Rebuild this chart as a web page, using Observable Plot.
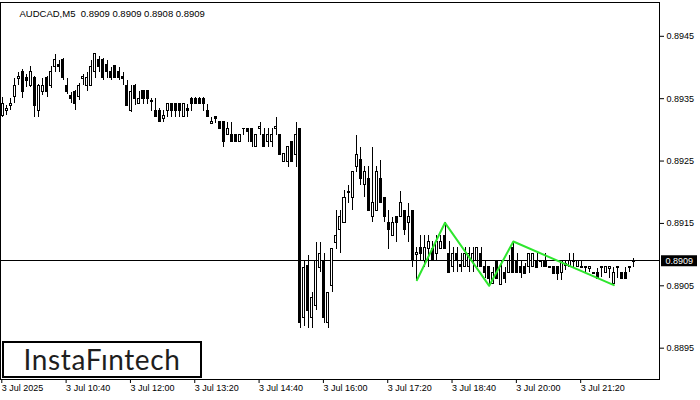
<!DOCTYPE html>
<html><head><meta charset="utf-8">
<script src="https://cdn.jsdelivr.net/npm/d3@7"></script>
<script src="https://cdn.jsdelivr.net/npm/@observablehq/plot@0.6"></script>
<style>
html,body{margin:0;padding:0;background:#fff;}
#wrap{position:relative;width:700px;height:400px;overflow:hidden;}
#logo{position:absolute;left:2px;top:341px;width:196px;height:33px;border:2px solid #000;background:#fff;font-family:Lato,"Open Sans",sans-serif;font-size:28px;font-weight:400;line-height:33px;text-align:center;color:#1e1e1e;letter-spacing:0.6px;}
</style></head><body><div id="wrap"><div id="chart"></div><div id="logo">InstaFıntech</div></div>
<script>
const titleText = "AUDCAD,M5\u00a0\u00a00.8909 0.8909 0.8908 0.8909";
const firstBar = -1;
const opens = [0.89323,0.89323,0.89330,0.89339,0.89352,0.89381,0.89392,0.89383,0.89371,0.89383,0.89331,0.89360,0.89383,0.89371,0.89400,0.89404,0.89412,0.89371,0.89354,0.89360,0.89352,0.89381,0.89371,0.89371,0.89392,0.89412,0.89412,0.89404,0.89392,0.89402,0.89392,0.89384,0.89371,0.89331,0.89371,0.89341,0.89362,0.89362,0.89344,0.89331,0.89331,0.89318,0.89331,0.89341,0.89341,0.89341,0.89320,0.89333,0.89350,0.89350,0.89350,0.89350,0.89331,0.89310,0.89320,0.89312,0.89312,0.89291,0.89291,0.89291,0.89280,0.89301,0.89301,0.89302,0.89272,0.89301,0.89291,0.89280,0.89280,0.89301,0.89291,0.89249,0.89249,0.89280,0.89260,0.89302,0.88998,0.89082,0.88998,0.89018,0.89079,0.89090,0.88990,0.89050,0.89119,0.89140,0.89151,0.89198,0.89191,0.89241,0.89251,0.89211,0.89222,0.89161,0.89170,0.89222,0.89191,0.89151,0.89130,0.89161,0.89161,0.89170,0.89151,0.89170,0.89100,0.89111,0.89090,0.89109,0.89109,0.89101,0.89109,0.89130,0.89101,0.89080,0.89101,0.89084,0.89080,0.89080,0.89090,0.89090,0.89101,0.89080,0.89080,0.89053,0.89090,0.89051,0.89071,0.89071,0.89111,0.89090,0.89080,0.89080,0.89080,0.89080,0.89090,0.89090,0.89090,0.89080,0.89080,0.89080,0.89071,0.89082,0.89080,0.89090,0.89080,0.89079,0.89080,0.89077,0.89071,0.89071,0.89080,0.89071,0.89077,0.89053,0.89080,0.89071,0.89071,0.89079,0.89088];
const highs = [0.89326,0.89352,0.89339,0.89350,0.89383,0.89392,0.89396,0.89388,0.89402,0.89386,0.89373,0.89383,0.89386,0.89402,0.89421,0.89412,0.89415,0.89383,0.89360,0.89363,0.89375,0.89389,0.89392,0.89412,0.89423,0.89418,0.89415,0.89412,0.89400,0.89402,0.89400,0.89392,0.89379,0.89371,0.89373,0.89362,0.89362,0.89363,0.89350,0.89350,0.89334,0.89331,0.89341,0.89341,0.89341,0.89341,0.89341,0.89341,0.89352,0.89352,0.89352,0.89352,0.89341,0.89320,0.89320,0.89312,0.89313,0.89312,0.89312,0.89291,0.89291,0.89302,0.89302,0.89302,0.89291,0.89312,0.89302,0.89302,0.89302,0.89320,0.89291,0.89262,0.89272,0.89280,0.89312,0.89302,0.89090,0.89098,0.89039,0.89119,0.89119,0.89101,0.89039,0.89109,0.89170,0.89170,0.89203,0.89211,0.89232,0.89291,0.89272,0.89241,0.89241,0.89272,0.89241,0.89251,0.89191,0.89170,0.89159,0.89161,0.89201,0.89170,0.89182,0.89170,0.89111,0.89130,0.89130,0.89130,0.89121,0.89130,0.89130,0.89151,0.89121,0.89111,0.89111,0.89101,0.89111,0.89111,0.89111,0.89111,0.89111,0.89090,0.89080,0.89080,0.89090,0.89090,0.89080,0.89098,0.89121,0.89101,0.89090,0.89085,0.89101,0.89101,0.89101,0.89090,0.89101,0.89080,0.89080,0.89080,0.89090,0.89090,0.89101,0.89101,0.89090,0.89090,0.89080,0.89080,0.89071,0.89077,0.89080,0.89080,0.89080,0.89080,0.89080,0.89071,0.89080,0.89080,0.89093];
const lows = [0.89307,0.89320,0.89323,0.89331,0.89342,0.89371,0.89350,0.89368,0.89368,0.89320,0.89320,0.89355,0.89352,0.89367,0.89392,0.89392,0.89379,0.89357,0.89342,0.89331,0.89347,0.89371,0.89362,0.89370,0.89383,0.89392,0.89379,0.89383,0.89379,0.89383,0.89379,0.89371,0.89339,0.89328,0.89339,0.89341,0.89341,0.89341,0.89330,0.89320,0.89312,0.89312,0.89320,0.89320,0.89320,0.89320,0.89320,0.89320,0.89330,0.89341,0.89341,0.89330,0.89320,0.89310,0.89310,0.89302,0.89272,0.89291,0.89280,0.89280,0.89280,0.89291,0.89280,0.89272,0.89272,0.89291,0.89272,0.89272,0.89272,0.89291,0.89260,0.89248,0.89240,0.89249,0.89240,0.88981,0.88985,0.88981,0.88981,0.89010,0.89071,0.88989,0.88981,0.89039,0.89109,0.89101,0.89151,0.89182,0.89170,0.89232,0.89211,0.89191,0.89170,0.89151,0.89170,0.89182,0.89151,0.89109,0.89130,0.89119,0.89161,0.89130,0.89119,0.89079,0.89059,0.89090,0.89079,0.89079,0.89090,0.89090,0.89109,0.89109,0.89071,0.89071,0.89071,0.89071,0.89080,0.89071,0.89071,0.89080,0.89080,0.89061,0.89050,0.89053,0.89061,0.89051,0.89053,0.89071,0.89071,0.89071,0.89061,0.89069,0.89069,0.89080,0.89079,0.89080,0.89080,0.89079,0.89069,0.89059,0.89059,0.89074,0.89080,0.89080,0.89080,0.89079,0.89071,0.89071,0.89069,0.89061,0.89064,0.89071,0.89061,0.89051,0.89061,0.89061,0.89061,0.89071,0.89080];
const closes = [0.89310,0.89341,0.89333,0.89342,0.89371,0.89384,0.89360,0.89379,0.89392,0.89339,0.89371,0.89371,0.89360,0.89392,0.89412,0.89400,0.89383,0.89360,0.89350,0.89341,0.89371,0.89384,0.89383,0.89400,0.89421,0.89400,0.89383,0.89392,0.89383,0.89383,0.89383,0.89381,0.89339,0.89360,0.89350,0.89350,0.89350,0.89350,0.89347,0.89320,0.89312,0.89322,0.89341,0.89331,0.89331,0.89331,0.89341,0.89330,0.89341,0.89341,0.89341,0.89341,0.89320,0.89313,0.89318,0.89302,0.89280,0.89302,0.89280,0.89280,0.89291,0.89302,0.89297,0.89280,0.89291,0.89304,0.89272,0.89291,0.89291,0.89304,0.89260,0.89262,0.89272,0.89249,0.89291,0.88990,0.89079,0.89010,0.89031,0.89090,0.89101,0.88998,0.89039,0.89109,0.89130,0.89161,0.89191,0.89201,0.89232,0.89260,0.89222,0.89232,0.89170,0.89182,0.89232,0.89182,0.89161,0.89140,0.89151,0.89151,0.89182,0.89140,0.89161,0.89090,0.89103,0.89101,0.89111,0.89121,0.89090,0.89121,0.89121,0.89109,0.89071,0.89101,0.89090,0.89080,0.89101,0.89101,0.89101,0.89111,0.89080,0.89071,0.89061,0.89071,0.89061,0.89080,0.89061,0.89090,0.89071,0.89071,0.89071,0.89069,0.89101,0.89101,0.89079,0.89088,0.89080,0.89079,0.89069,0.89069,0.89090,0.89085,0.89090,0.89088,0.89090,0.89080,0.89079,0.89080,0.89069,0.89061,0.89079,0.89080,0.89080,0.89071,0.89079,0.89061,0.89061,0.89080,0.89090];
const tickBars = [0,16,32,48,64,80,96,112,128,144];
const tickLabels = ["3 Jul 2025","3 Jul 10:40","3 Jul 12:00","3 Jul 13:20","3 Jul 14:40","3 Jul 16:00","3 Jul 17:20","3 Jul 18:40","3 Jul 20:00","3 Jul 21:20"];
const priceTicks = [0.8895,0.8905,0.8915,0.8925,0.8935,0.8945];
const currentPrice = 0.8909;
const patternBars = [103,110,121,127,152];
const patternPrices = [0.89059,0.89151,0.89050,0.89121,0.89051];

const candles = opens.map((o,k)=>({i:firstBar+k,o,h:highs[k],l:lows[k],c:closes[k]}));
const pattern = patternBars.map((b,k)=>({b,p:patternPrices[k]}));
const fmt = d3.format(".4f");

const chart = Plot.plot({
  width:700, height:400,
  marginLeft:0, marginRight:41, marginTop:2, marginBottom:21,
  style:{fontFamily:"'Liberation Sans', Arial, sans-serif", fontSize:"9px", color:"#000", background:"#fff", overflow:"visible"},
  x:{type:"linear", domain:[-0.572,163.358], axis:null},
  y:{domain:[0.888998,0.895042], axis:null},
  marks:[
    Plot.ruleY([currentPrice], {stroke:"#000", shapeRendering:"crispEdges"}),
    Plot.ruleX(candles, {x:"i", y1:"l", y2:"h", stroke:"#000", shapeRendering:"crispEdges"}),
    Plot.rect(candles, {x1:d=>d.i-0.25, x2:d=>d.i+0.25, y1:d=>Math.min(d.o,d.c), y2:d=>Math.max(d.o,d.c), fill:d=>d.c>=d.o?"#ffffff":"#000000", stroke:"#000", shapeRendering:"crispEdges"}),
    Plot.line(pattern, {x:"b", y:"p", stroke:"#2ee62e", strokeWidth:2}),
    Plot.frame({stroke:"#000", shapeRendering:"crispEdges"}),
    Plot.axisY({anchor:"right", ticks:priceTicks, tickFormat:fmt, tickSize:4, tickPadding:3, label:null}),
    Plot.axisX({ticks:tickBars, tickFormat:d=>tickLabels[tickBars.indexOf(d)], tickSize:4, tickPadding:1, textAnchor:"start", dx:-1, label:null}),
    Plot.ruleY([currentPrice], {stroke:"#000", strokeWidth:11, insetLeft:661, insetRight:-38}),
    Plot.text([currentPrice], {y:d=>d, text:d=>fmt(d), frameAnchor:"right", textAnchor:"start", dx:6, fill:"#fff"}),
    Plot.text([titleText], {frameAnchor:"top-left", textAnchor:"start", dx:19, dy:8, text:d=>d, fontSize:9.5})
  ]
});
document.getElementById("chart").appendChild(chart);
</script>
</body></html>
